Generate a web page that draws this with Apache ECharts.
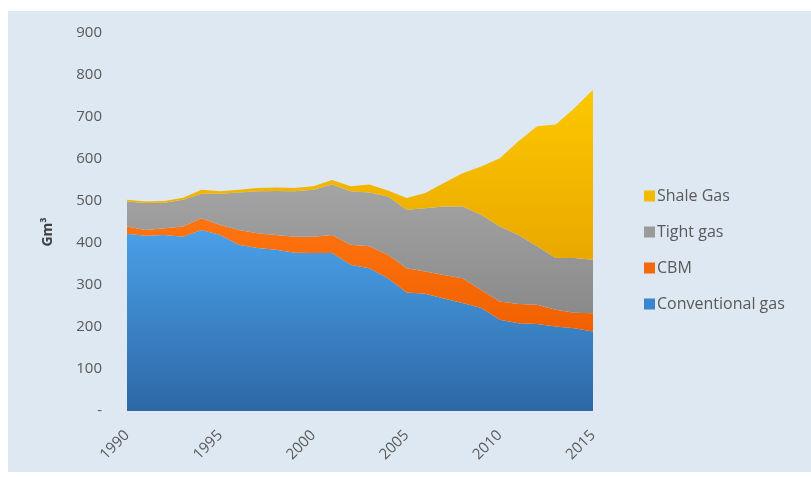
<!DOCTYPE html>
<html>
<head>
<meta charset="utf-8">
<script src="https://cdn.jsdelivr.net/npm/echarts@6/dist/echarts.min.js"></script>
<style>
  html, body { margin: 0; padding: 0; background: #ffffff; }
  #chart { width: 811px; height: 477px; }
</style>
</head>
<body>
<div id="chart"></div>
<script>
// years on the x axis
let years = [];
for (let y = 1990; y <= 2015; y++) years.push(String(y));

// Gm3
let conventional = [422, 417, 419, 415, 431, 419, 396, 388, 384, 377, 376, 376, 348, 340, 316, 282, 279, 268, 257, 245, 217, 209, 207, 201, 197, 189];
let cbm = [17, 14, 16, 24, 28, 24, 35, 35, 35, 38, 39, 43, 48, 52, 56, 58, 53, 56, 59, 43, 44, 46, 46, 40, 37, 44];
let tight = [60, 64, 61, 64, 58, 74, 89, 100, 105, 108, 112, 120, 127, 128, 139, 139, 151, 163, 171, 179, 178, 164, 139, 123, 130, 127];
let shale = [4, 4, 4, 5, 10, 6, 7, 8, 8, 8, 8, 11, 12, 19, 14, 28, 36, 56, 79, 115, 163, 223, 286, 318, 357, 405];

let grad = (top, bottom) =>
  new echarts.graphic.LinearGradient(0, 0, 0, 1, [
    { offset: 0, color: top },
    { offset: 1, color: bottom },
  ]);

let areaSeries = (name, data, fill, icon) => ({
  name: name,
  type: "line",
  stack: "total",
  data: data,
  symbol: "none",
  lineStyle: { width: 0 },
  areaStyle: { color: fill, opacity: 1 },
  itemStyle: { color: icon },
});

let myChart = echarts.init(document.getElementById("chart"));
myChart.setOption({
  animation: false,
  graphic: [
    {
      type: "rect",
      z: -10,
      shape: { x: 8, y: 11, width: 803, height: 461 },
      style: { fill: "#dde8f2" },
    },
  ],
  legend: {
    orient: "vertical",
    left: 639,
    top: 183,
    itemWidth: 11,
    itemHeight: 11,
    itemGap: 20,
    icon: "rect",
    textStyle: { color: "#595959", fontSize: 16, fontFamily: "Open Sans", padding: [0, 0, 0, -3] },
    data: ["Shale Gas", "Tight gas", "CBM", "Conventional gas"],
  },
  grid: { left: 127, right: 218, top: 33, bottom: 66 },
  xAxis: {
    type: "category",
    data: years,
    boundaryGap: false,
    axisLine: { show: false },
    axisTick: { show: false },
    axisLabel: {
      interval: 4,
      rotate: 45,
      color: "#595959",
      fontSize: 15,
      fontFamily: "Open Sans",
      margin: 22,
    },
  },
  yAxis: {
    type: "value",
    min: 0,
    max: 900,
    interval: 100,
    name: "Gm³",
    nameLocation: "middle",
    nameGap: 72,
    nameTextStyle: {
      color: "#404040",
      fontSize: 14,
      fontWeight: "bold",
      fontFamily: "Open Sans",
      padding: [0, 20, 0, 0],
    },
    splitLine: { show: false },
    axisLine: { show: false },
    axisTick: { show: false },
    axisLabel: {
      color: "#595959",
      fontSize: 15,
      fontFamily: "Open Sans",
      margin: 25,
      formatter: (v) => (v === 0 ? "-" : v),
    },
  },
  series: [
    areaSeries("Conventional gas", conventional, grad("#4aa0e8", "#2d68a6"), "#3a86cc"),
    areaSeries("CBM", cbm, grad("#ff7410", "#f06000"), "#f26a0c"),
    areaSeries("Tight gas", tight, grad("#a4a4a4", "#8a8a8a"), "#9a9a9a"),
    areaSeries("Shale Gas", shale, grad("#fcc800", "#eaa800"), "#f2bb00"),
  ],
});
</script>
</body>
</html>
